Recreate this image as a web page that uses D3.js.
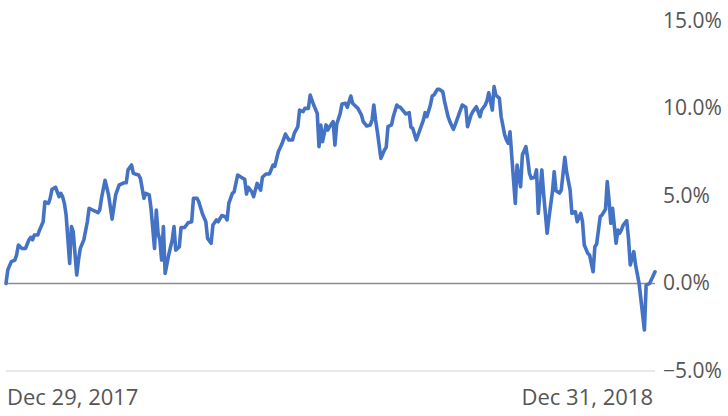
<!DOCTYPE html>
<html>
<head>
<meta charset="utf-8">
<script src="https://cdn.jsdelivr.net/npm/d3@7/dist/d3.min.js"></script>
<style>
  html, body { margin: 0; padding: 0; background: #fff; }
  svg { display: block; }
  text { font-family: "Open Sans", sans-serif; fill: #555; }
</style>
</head>
<body>
<svg id="chart" width="728" height="416"></svg>
<script>
// Calendar days since Dec 29, 2017
const dayOffsets = [0,1,3,5,6,7,9,11,13,14,15,16,18,19,21,22,24,25,26,28,30,31,32,33,34,36,37,38,40,41,42,44,46,47,49,52,53,54,56,58,60,62,64,67,68,69,71,72,73,75,76,78,79,81,82,84,85,86,87,88,89,90,92,94,95,96,98,99,101,103,105,106,108,109,111,113,114,116,117,119,120,122,124,125,126,128,129,131,133,135,136,137,139,140,142,144,145,147,149,151,152,154,156,158,160,162,163,165,166,168,169,171,172,174,176,177,178,179,181,182,183,185,186,187,189,190,192,193,195,196,197,199,201,202,204,206,207,208,209,210,212,214,215,216,218,219,221,222,223,225,226,228,229,230,232,234,236,237,238,240,241,242,244,245,247,248,250,251,253,254,256,258,260,261,263,264,266,268,269,271,272,273,275,276,277,279,280,282,283,284,285,287,288,289,291,292,294,295,296,297,299,300,301,303,304,306,307,309,310,311,313,314,316,317,319,320,322,323,325,326,327,329,330,332,333,334,336,337,339,340,341,342,343,345,346,347,348,349,351,352,353,355,356,358,361,362,364,367];
// Cumulative return, %
const returns = [0.0,0.77,1.25,1.34,1.63,2.2,2.0,2.0,2.5,2.64,2.5,2.77,2.77,3.06,3.53,4.67,4.58,4.87,5.38,5.5,4.96,5.15,4.96,4.58,3.91,1.15,3.25,2.96,0.49,1.34,2.0,2.49,3.53,4.3,4.2,4.05,4.2,4.87,5.9,5.06,3.68,5.06,5.63,5.76,5.76,6.49,6.77,6.3,6.26,6.2,6.01,4.87,5.15,5.06,4.3,2.0,4.2,2.87,2.49,1.34,3.25,0.58,1.63,2.49,3.25,1.91,2.1,3.2,3.2,3.47,3.53,4.87,4.87,4.67,4.01,3.53,2.58,2.3,3.34,3.63,3.53,3.88,3.82,3.63,4.58,5.15,5.24,6.2,6.07,5.95,5.11,5.5,5.24,4.96,5.72,5.34,6.07,6.26,6.26,6.77,6.7,7.53,7.97,8.54,8.2,8.2,8.58,8.96,9.91,9.82,10.01,10.01,10.77,10.2,9.72,7.82,9.06,8.1,9.06,8.77,8.96,9.25,7.91,9.1,9.72,10.26,10.3,10.07,10.71,10.3,10.2,10.01,9.63,9.25,9.0,9.06,9.34,10.2,9.34,8.67,7.15,7.63,7.78,8.96,9.06,9.53,10.2,10.1,10.07,9.82,9.69,9.76,8.93,8.87,8.2,8.77,9.34,9.76,9.53,10.2,10.71,10.77,11.1,11.1,10.96,10.4,9.53,9.25,8.81,9.06,9.63,10.2,10.07,8.96,9.63,9.82,10.1,9.53,9.91,10.2,10.45,10.9,9.91,11.25,10.77,10.58,9.53,8.49,8.2,8.01,8.67,5.91,4.58,6.77,5.53,7.34,7.82,7.15,6.3,6.01,6.07,6.49,4.01,6.49,5.15,2.87,3.72,5.24,6.39,5.3,5.17,5.34,7.21,6.39,5.34,4.01,4.1,3.53,4.01,3.53,2.2,1.72,1.63,0.67,2.1,2.26,3.82,3.91,4.24,5.82,4.77,3.44,4.3,2.3,3.06,2.87,3.06,3.34,3.59,2.58,1.06,1.82,1.06,0.01,-2.66,-0.09,0.01,0.67];
const yTicks = [15, 10, 5, 0, -5];
const xLabels = ["Dec 29, 2017", "Dec 31, 2018"];

const startDate = new Date(2017, 11, 29);
const endDate = new Date(2018, 11, 31);
const data = dayOffsets.map((d, i) => ({ date: d3.timeDay.offset(startDate, d), value: returns[i] }));

const svg = d3.select("#chart");
const x = d3.scaleTime().domain([startDate, endDate]).range([6, 655]);
const y = d3.scaleLinear().domain([-5, 15]).range([371, 21]);

// bottom line at -5%
svg.append("line")
  .attr("x1", x(startDate)).attr("x2", x(endDate))
  .attr("y1", y(-5)).attr("y2", y(-5))
  .attr("stroke", "#e2e2e2").attr("stroke-width", 1.5);

// zero line
svg.append("line")
  .attr("x1", x(startDate)).attr("x2", x(endDate))
  .attr("y1", y(0)).attr("y2", y(0))
  .attr("stroke", "#8c8c8c").attr("stroke-width", 1.5);

// y labels
svg.selectAll("text.ylab").data(yTicks).enter().append("text")
  .attr("class", "ylab")
  .attr("x", 663)
  .attr("y", d => y(d) + 1)
  .attr("dominant-baseline", "middle")
  .attr("font-size", 21)
  .text(d => d3.format(".1f")(d) + "%");

// x labels
svg.append("text").attr("x", x(startDate) + 1).attr("y", 405)
  .attr("text-anchor", "start").attr("font-size", 22).text(xLabels[0]);
svg.append("text").attr("x", x(endDate) - 2).attr("y", 405)
  .attr("text-anchor", "end").attr("font-size", 22).text(xLabels[1]);

// line
const line = d3.line().x(d => x(d.date)).y(d => y(d.value));
svg.append("path").datum(data)
  .attr("d", line)
  .attr("fill", "none")
  .attr("stroke", "#4472c4")
  .attr("stroke-width", 3.6)
  .attr("stroke-linejoin", "round")
  .attr("stroke-linecap", "round");
</script>
</body>
</html>
